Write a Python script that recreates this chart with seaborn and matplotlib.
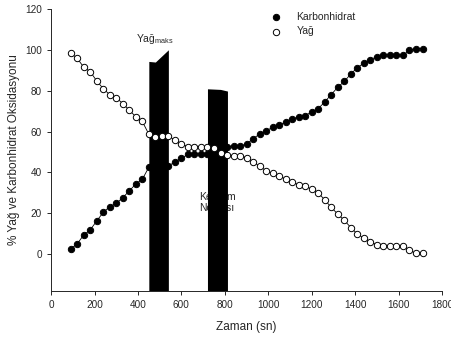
import numpy as np
import pandas as pd
import matplotlib
matplotlib.use("Agg")
import matplotlib.pyplot as plt
import seaborn as sns

# zaman (sn)
zaman = [90, 120, 150, 180, 210, 240, 270, 300, 330, 360, 390, 420, 450, 480, 510,
         540, 570, 600, 630, 660, 690, 720, 750, 780, 810, 840, 870, 900, 930, 960,
         990, 1020, 1050, 1080, 1110, 1140, 1170, 1200, 1230, 1260, 1290, 1320, 1350,
         1380, 1410, 1440, 1470, 1500, 1530, 1560, 1590, 1620, 1650, 1680, 1710]

karbonhidrat = [2.5, 5.0, 9.3, 11.8, 16.2, 20.4, 23.2, 24.8, 27.6, 30.9, 34.3, 36.6, 42.5, 43.3, 43.2,
                43.0, 45.2, 46.8, 48.9, 48.9, 49.0, 49.2, 49.5, 51.5, 52.6, 53.0, 53.0, 53.8, 56.5, 58.7,
                60.4, 62.0, 63.2, 64.7, 66.0, 67.3, 67.8, 69.6, 71.2, 74.5, 78.1, 81.7, 84.5,
                88.2, 91.2, 93.5, 95.1, 96.7, 97.5, 97.5, 97.5, 97.3, 99.7, 100.5, 100.5]

yag = [98.4, 95.9, 91.5, 89.3, 84.8, 81.0, 78.0, 76.5, 73.7, 70.5, 67.2, 64.9, 58.7, 57.5, 57.8,
       57.8, 55.8, 53.9, 52.6, 52.6, 52.6, 52.6, 51.8, 49.3, 48.4, 48.2, 48.2, 47.2, 45.2, 43.0,
       40.8, 39.5, 38.4, 36.6, 35.1, 34.0, 33.3, 31.7, 30.0, 26.5, 22.9, 19.5, 16.5,
       13.0, 9.8, 7.8, 6.0, 4.6, 3.8, 3.8, 3.8, 3.8, 2.0, 0.3, 0.3]

# siyah bloklar (yag_maks ve kesisim noktasi)
blok1_x = [450, 480, 540]
blok1_ust = [94.3, 94.0, 100.0]
blok2_x = [720, 780, 812]
blok2_ust = [80.9, 80.6, 79.8]

df = pd.DataFrame({"Zaman": zaman, "Karbonhidrat": karbonhidrat, "Yağ": yag})

sns.set_style("ticks")
plt.rcParams["font.family"] = ["Liberation Sans", "DejaVu Sans"]
plt.rcParams["mathtext.fontset"] = "custom"
plt.rcParams["mathtext.rm"] = "Liberation Sans"

fig = plt.figure(figsize=(4.52, 3.43), dpi=100)
ax = fig.add_axes([0.113, 0.152, 0.865, 0.822])

alt = -18
ax.fill_between(blok1_x, alt, blok1_ust, color="black", lw=0, zorder=2)
ax.fill_between(blok2_x, alt, blok2_ust, color="black", lw=0, zorder=2)

sns.lineplot(data=df, x="Zaman", y="Karbonhidrat", color="black", lw=0.6, ax=ax, zorder=3)
sns.lineplot(data=df, x="Zaman", y="Yağ", color="black", lw=0.6, ax=ax, zorder=3)
sns.scatterplot(data=df, x="Zaman", y="Karbonhidrat", color="black", edgecolor="black",
                s=21, linewidth=0.7, ax=ax, zorder=4, label="Karbonhidrat")
sns.scatterplot(data=df, x="Zaman", y="Yağ", color="white", edgecolor="black",
                s=21, linewidth=0.7, ax=ax, zorder=4, label="Yağ")

ax.text(391, 104, "Yağ$_{\\mathrm{maks}}$", fontsize=7.5, zorder=1)
ax.text(681, 21, "Kesişim\nNoktası", fontsize=7.5, zorder=1, linespacing=1.1)

ax.set_xlim(0, 1800)
ax.set_ylim(alt, 120)
ax.set_xticks(range(0, 1801, 200))
ax.set_yticks(range(0, 121, 20))
ax.tick_params(labelsize=7.2, length=3, width=0.7)
ax.set_xlabel("Zaman (sn)", fontsize=8.5, labelpad=8)
ax.set_ylabel("% Yağ ve Karbonhidrat Oksidasyonu", fontsize=8.5, labelpad=4)
sns.despine(ax=ax)
for s in ["left", "bottom"]:
    ax.spines[s].set_linewidth(0.7)

ax.legend(loc="upper left", bbox_to_anchor=(0.537, 1.005), frameon=False, fontsize=7.5,
          handletextpad=1.0, labelspacing=0.45, borderaxespad=0)

fig.savefig("out.png", dpi=100)
